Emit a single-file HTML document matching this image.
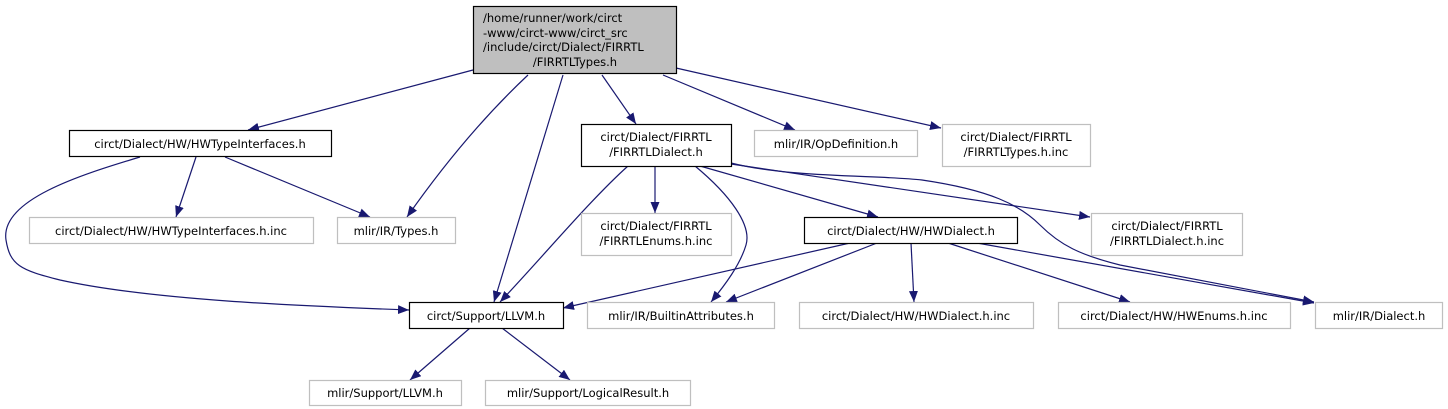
<!DOCTYPE html>
<html><head><meta charset="utf-8"><style>
html,body{margin:0;padding:0;background:#fff;}
svg{display:block;}
text{font-family:"DejaVu Sans","Liberation Sans",sans-serif;font-size:11.5px;fill:#000;}
</style></head><body>
<svg width="1448" height="409" viewBox="0 0 1448 409" xmlns="http://www.w3.org/2000/svg">
<defs>
<marker id="a" markerUnits="userSpaceOnUse" markerWidth="12" markerHeight="10" refX="11" refY="4.5" orient="auto">
<path d="M0,0 L11,4.5 L0,9 z" fill="#191970"/>
</marker>
</defs>
<g fill="none" stroke="#191970" stroke-width="1.2" marker-end="url(#a)">
<path d="M473,70 L248,130"/>
<path d="M528,75 C480,120 440,170 407,217"/>
<path d="M563,75 L494,302"/>
<path d="M602,75 L636,124"/>
<path d="M663,75 L795,130"/>
<path d="M676,68 L941,128"/>
<path d="M196,157 L176,217"/>
<path d="M225,157 L370,217"/>
<path d="M140,157 C80,175 0,200 6,240 C10,265 20,270 60,280 C150,300 300,306 409,310"/>
<path d="M628,166 C590,200 540,260 500,302"/>
<path d="M655,166 L655,213"/>
<path d="M695,166 C730,195 752,225 746,245 C740,265 725,285 711,302"/>
<path d="M700,166 L878,217"/>
<path d="M731,164 L1090,217"/>
<path d="M731,163 C790,178 880,175 922,180 C990,190 1020,205 1040,225 C1060,245 1080,255 1120,265 L1314,302"/>
<path d="M850,243 L563,308"/>
<path d="M877,243 L726,302"/>
<path d="M911,243 L914,302"/>
<path d="M948,243 L1130,302"/>
<path d="M977,243 L1314,303"/>
<path d="M470,328 L410,380"/>
<path d="M502,328 L570,380"/>
</g>
<g stroke-width="1.2">
<rect x="473.5" y="6.5" width="203" height="67" fill="#bfbfbf" stroke="#000"/>
<rect x="69.5" y="130.5" width="262" height="26" fill="#fff" stroke="#000"/>
<rect x="581.5" y="124.5" width="150" height="42" fill="#fff" stroke="#000"/>
<rect x="754.5" y="130.5" width="163" height="26" fill="#fff" stroke="#bfbfbf"/>
<rect x="942.5" y="124.5" width="148" height="42" fill="#fff" stroke="#bfbfbf"/>
<rect x="29.5" y="217.5" width="284" height="26" fill="#fff" stroke="#bfbfbf"/>
<rect x="337.5" y="217.5" width="118" height="26" fill="#fff" stroke="#bfbfbf"/>
<rect x="581.5" y="213.5" width="150" height="42" fill="#fff" stroke="#bfbfbf"/>
<rect x="804.5" y="217.5" width="213" height="26" fill="#fff" stroke="#000"/>
<rect x="1091.5" y="213.5" width="151" height="42" fill="#fff" stroke="#bfbfbf"/>
<rect x="409.5" y="302.5" width="154" height="26" fill="#fff" stroke="#000"/>
<rect x="587.5" y="302.5" width="187" height="26" fill="#fff" stroke="#bfbfbf"/>
<rect x="799.5" y="302.5" width="234" height="26" fill="#fff" stroke="#bfbfbf"/>
<rect x="1058.5" y="302.5" width="232" height="26" fill="#fff" stroke="#bfbfbf"/>
<rect x="1315.5" y="302.5" width="127" height="26" fill="#fff" stroke="#bfbfbf"/>
<rect x="309.5" y="380.5" width="152" height="25" fill="#fff" stroke="#bfbfbf"/>
<rect x="485.5" y="380.5" width="205" height="25" fill="#fff" stroke="#bfbfbf"/>
</g>
<g>
<text x="483" y="22">/home/runner/work/circt</text>
<text x="483" y="37">-www/circt-www/circt_src</text>
<text x="483" y="51">/include/circt/Dialect/FIRRTL</text>
<text x="575" y="66" text-anchor="middle">/FIRRTLTypes.h</text>
<g text-anchor="middle">
<text x="200" y="148">circt/Dialect/HW/HWTypeInterfaces.h</text>
<text x="656" y="141">circt/Dialect/FIRRTL</text>
<text x="656" y="156">/FIRRTLDialect.h</text>
<text x="836" y="148">mlir/IR/OpDefinition.h</text>
<text x="1016" y="141">circt/Dialect/FIRRTL</text>
<text x="1016" y="156">/FIRRTLTypes.h.inc</text>
<text x="171" y="235">circt/Dialect/HW/HWTypeInterfaces.h.inc</text>
<text x="396" y="235">mlir/IR/Types.h</text>
<text x="656" y="230">circt/Dialect/FIRRTL</text>
<text x="656" y="245">/FIRRTLEnums.h.inc</text>
<text x="911" y="235">circt/Dialect/HW/HWDialect.h</text>
<text x="1167" y="230">circt/Dialect/FIRRTL</text>
<text x="1167" y="245">/FIRRTLDialect.h.inc</text>
<text x="486" y="320">circt/Support/LLVM.h</text>
<text x="681" y="320">mlir/IR/BuiltinAttributes.h</text>
<text x="916" y="320">circt/Dialect/HW/HWDialect.h.inc</text>
<text x="1174" y="320">circt/Dialect/HW/HWEnums.h.inc</text>
<text x="1379" y="320">mlir/IR/Dialect.h</text>
<text x="385" y="397">mlir/Support/LLVM.h</text>
<text x="588" y="397">mlir/Support/LogicalResult.h</text>
</g>
</g>
</svg>
</body></html>
